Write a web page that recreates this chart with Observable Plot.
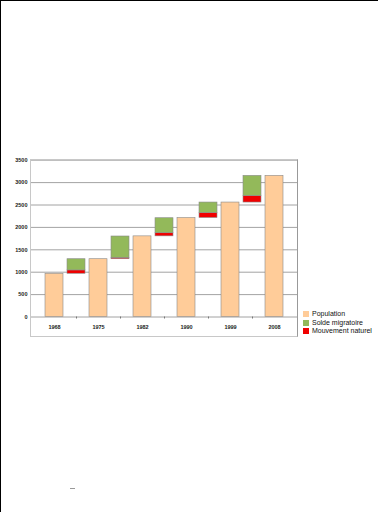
<!DOCTYPE html>
<html>
<head>
<meta charset="utf-8">
<script src="https://cdn.jsdelivr.net/npm/d3@7"></script>
<script src="https://cdn.jsdelivr.net/npm/@observablehq/plot@0.6"></script>
<style>
  html, body { margin: 0; padding: 0; background: #fff; }
  body { width: 378px; height: 512px; position: relative; overflow: hidden; font-family: "Liberation Sans", Arial, sans-serif; }
  #page { position: absolute; left: 0; top: 0; width: 378px; height: 512px; border-left: 1px solid #000; border-top: 1px solid #000; box-sizing: border-box; pointer-events: none; }
  #box { position: absolute; left: 30px; top: 159px; width: 268px; height: 178px; border: 1px solid #c8c8c8; border-right-color: #999; box-sizing: border-box; pointer-events: none; }
  #chart { position: absolute; left: 0; top: 0; }
  #legend { position: absolute; left: 303px; top: 310px; font-size: 7px; color: #111; line-height: 8.6px; }
  #legend .it { display: flex; align-items: center; white-space: nowrap; }
  #legend .sw { width: 6px; height: 6px; margin-right: 3px; flex: none; }
  #dash { position: absolute; left: 70px; top: 488px; width: 5px; height: 1px; background: #999; }
</style>
</head>
<body>
<div id="chart"></div>
<div id="box"></div>
<div id="legend"></div>
<div id="dash"></div>
<div id="page"></div>
<script>
// Data
const years = ["1968", "1975", "1982", "1990", "1999", "2008"];
const population = [965, 1290, 1800, 2210, 2555, 3150];
const mouvementNaturel = [75, 30, 70, 110, 145];
const soldeMigratoire = [250, 477, 335, 235, 450];
const yTicks = [0, 500, 1000, 1500, 2000, 2500, 3000, 3500];
const seriesNames = ["Population", "Solde migratoire", "Mouvement naturel"];
const seriesColors = ["#FFCC99", "#93B95A", "#F00000"];

// slots: population bar, then change bar between two censuses
const slots = [];
years.forEach((y, i) => {
  slots.push(y);
  if (i < years.length - 1) slots.push("Δ" + i);
});
const changeSlots = slots.filter(s => s.startsWith("Δ"));

const rows = [];
years.forEach((y, i) => {
  rows.push({slot: y, serie: "Population", y1: 0, y2: population[i]});
  if (i < years.length - 1) {
    const base = population[i];
    const nat = base + mouvementNaturel[i];
    rows.push({slot: "Δ" + i, serie: "Mouvement naturel", y1: base, y2: nat});
    rows.push({slot: "Δ" + i, serie: "Solde migratoire", y1: nat, y2: nat + soldeMigratoire[i]});
  }
});

const chart = Plot.plot({
  width: 378,
  height: 512,
  marginLeft: 30,
  marginRight: 80,
  marginTop: 159.7,
  marginBottom: 195.5,
  style: {fontFamily: "'Liberation Sans', Arial, sans-serif", background: "transparent", overflow: "visible"},
  x: {type: "band", domain: slots, paddingInner: 0.19, paddingOuter: 0.6, axis: null, label: null},
  y: {domain: [0, 3500], axis: null, label: null},
  color: {domain: seriesNames, range: seriesColors},
  marks: [
    Plot.gridY(yTicks, {stroke: "#8c8c8c", strokeOpacity: 1, strokeWidth: 0.8}),
    Plot.axisY(yTicks, {tickSize: 0, tickPadding: 3, fontSize: 5.5, fontWeight: "bold", fill: "#222", label: null, tickFormat: d => String(d)}),
    Plot.axisX(years, {tickSize: 0, tickPadding: 8, fontSize: 5.5, fontWeight: "bold", fill: "#222", label: null}),
    Plot.axisX(changeSlots, {tickSize: 2, tickFormat: () => "", stroke: "#777", label: null}),
    Plot.barY(rows, {x: "slot", y1: "y1", y2: "y2", fill: "serie", stroke: "#8a8a8a", strokeWidth: 0.6})
  ]
});
document.getElementById("chart").appendChild(chart);

const legend = document.getElementById("legend");
seriesNames.forEach((n, i) => {
  const it = document.createElement("div");
  it.className = "it";
  const sw = document.createElement("span");
  sw.className = "sw";
  sw.style.background = seriesColors[i];
  it.appendChild(sw);
  it.appendChild(document.createTextNode(n));
  legend.appendChild(it);
});
</script>
</body>
</html>
